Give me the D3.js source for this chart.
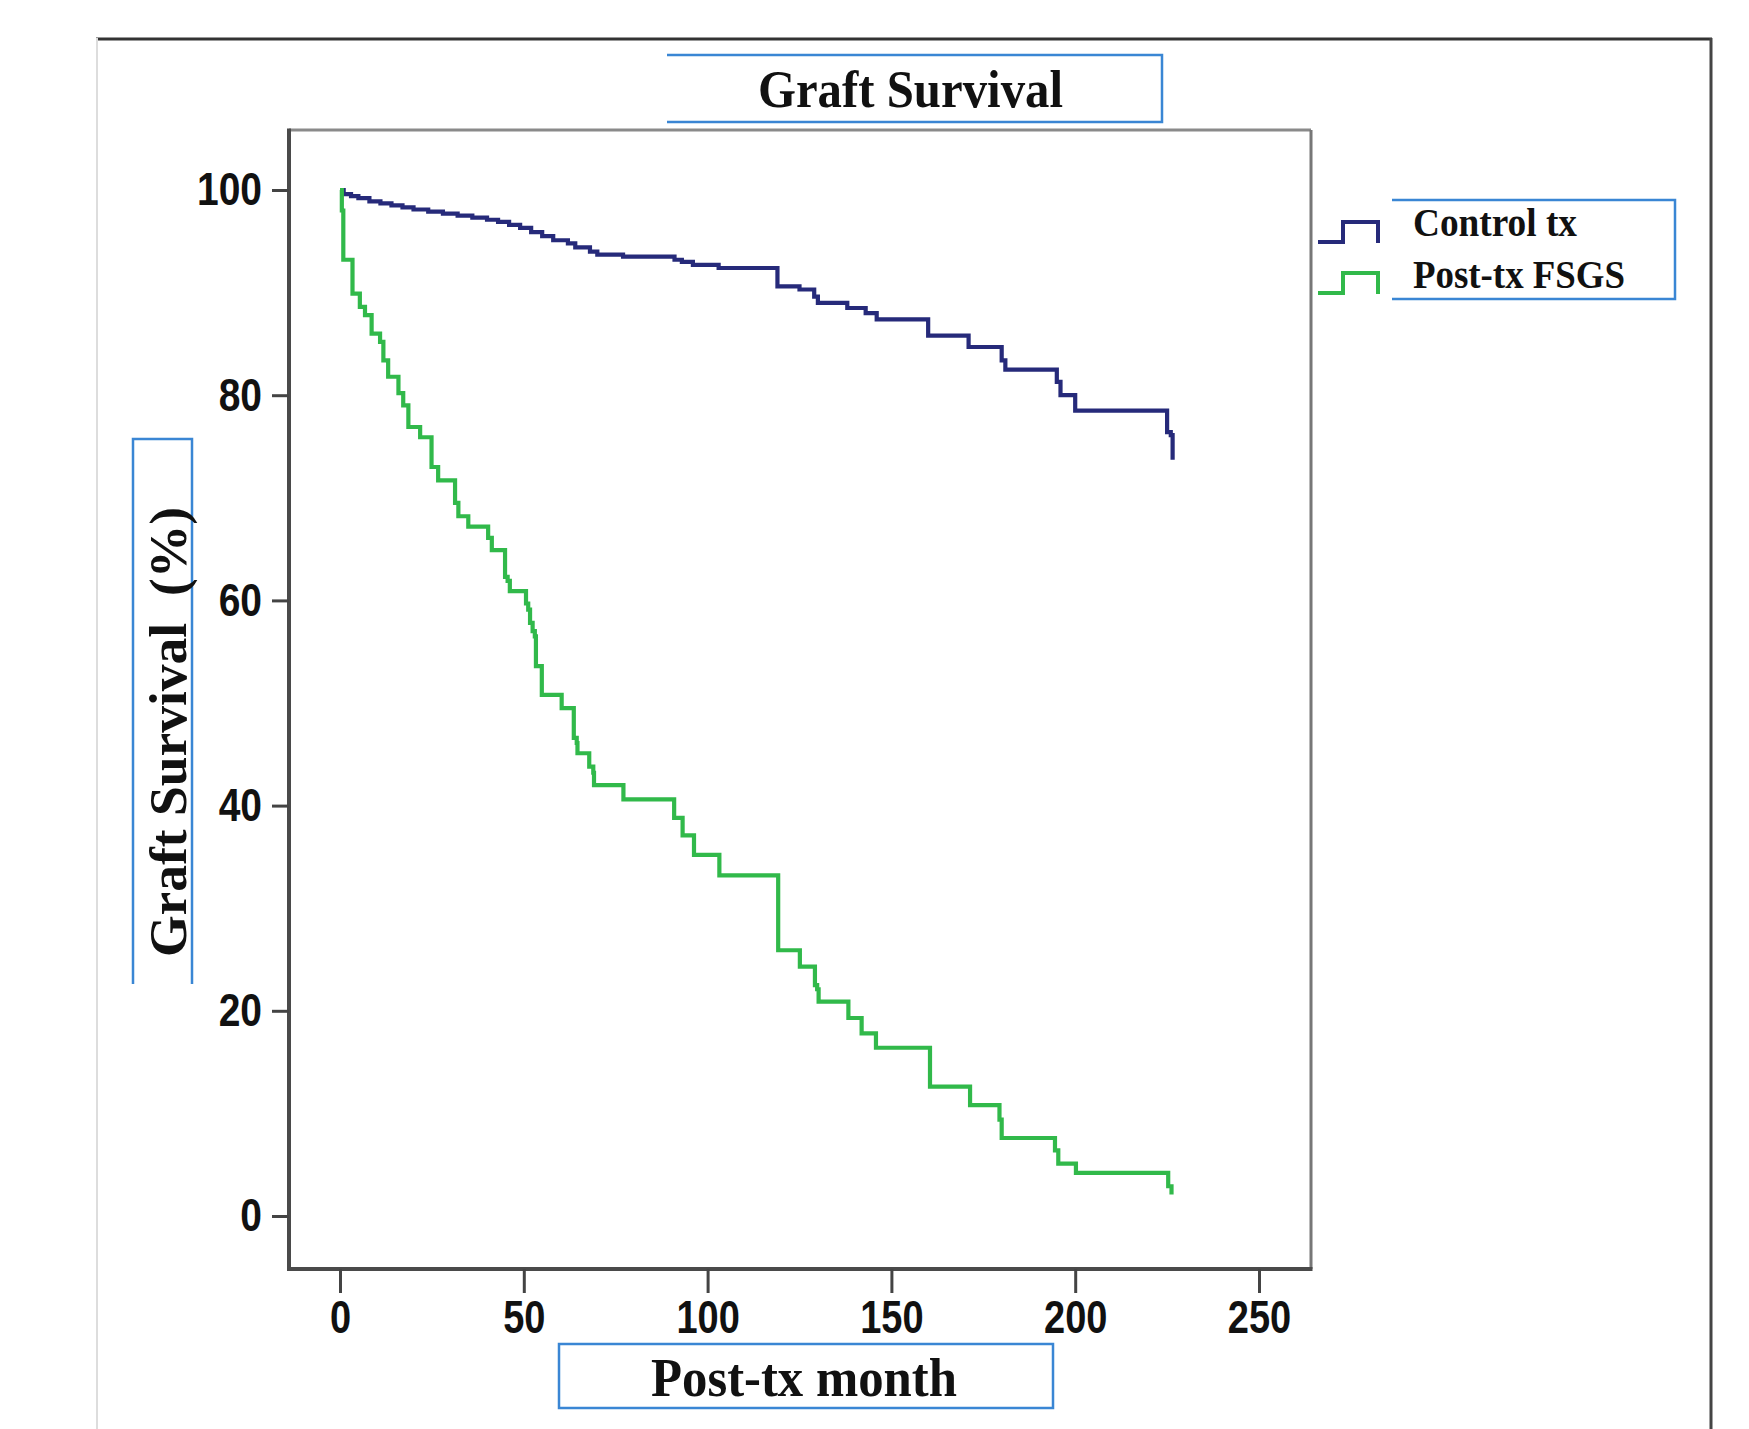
<!DOCTYPE html>
<html>
<head>
<meta charset="utf-8">
<script src="https://cdn.jsdelivr.net/npm/d3@7"></script>
<style>
  body { margin: 0; background: #fff; }
  svg { display: block; }
</style>
</head>
<body>
<svg></svg>
<script>
// Kaplan-Meier steps (month, survival %)
const seriesNames = ["Control tx", "Post-tx FSGS"];
const controlMonths = [0, 1, 3, 5, 8, 11, 14, 17, 20, 24, 28, 32, 36, 40, 43, 46, 49, 52, 55, 58,
  62, 64, 68, 70, 77, 91, 93, 96, 103, 119, 125, 129, 130, 138, 143, 146, 160, 171, 180, 181,
  195, 196, 200, 225, 226, 226.5];
const controlSurvival = [100, 99.6, 99.4, 99.2, 98.9, 98.7, 98.5, 98.3, 98.1, 97.9, 97.7, 97.5, 97.3, 97.1, 96.9, 96.6, 96.3, 95.9, 95.5, 95.1,
  94.8, 94.4, 94.0, 93.7, 93.5, 93.2, 93.0, 92.7, 92.4, 90.6, 90.3, 89.6, 89.0, 88.5, 88.0, 87.4, 85.8, 84.7, 83.4, 82.5,
  81.3, 80.0, 78.5, 76.4, 76.1, 73.7];
const fsgsMonths = [0, 0.5, 0.9, 3.4, 5.4, 6.8, 8.6, 10.9, 11.8, 13.1, 15.9, 17.2, 18.6, 21.8, 24.9, 26.7, 31.3, 32.2, 34.9, 40.3,
  41.3, 44.9, 45.6, 46.2, 50.6, 51.2, 51.7, 52.4, 53.0, 53.3, 54.9, 60.3, 63.6, 64.4, 64.6, 67.8, 68.9, 69.1, 77.1, 90.9,
  93.2, 96.3, 103.2, 119.2, 125.1, 129.2, 129.8, 130.2, 138.3, 141.9, 145.8, 160.5, 171.4, 179.4, 180.0, 194.5, 195.4, 200.2, 225.3, 226.2];
const fsgsSurvival = [100, 98.0, 93.2, 89.9, 88.6, 87.8, 86.0, 85.2, 83.4, 81.8, 80.2, 79.0, 76.9, 75.9, 73.0, 71.7, 69.5, 68.2, 67.2, 66.1,
  64.9, 62.3, 61.9, 60.9, 59.7, 59.1, 57.8, 57.0, 56.5, 53.6, 50.8, 49.5, 46.6, 46.1, 45.1, 43.8, 43.2, 42.0, 40.6, 38.8,
  37.1, 35.2, 33.2, 25.9, 24.3, 22.5, 22.1, 20.9, 19.3, 17.8, 16.4, 12.6, 10.8, 9.4, 7.6, 6.4, 5.1, 4.2, 2.9, 2.1];
const xTicks = [0, 50, 100, 150, 200, 250];
const yTicks = [0, 20, 40, 60, 80, 100];

const width = 1749, height = 1429;
const frame = { left: 289, top: 130, right: 1311, bottom: 1269 };
const colors = ["#262a7a", "#31b94a"];
const boxBlue = "#3a86d4";
const serif = "'Liberation Serif', 'Times New Roman', serif";
const sans = "'Liberation Sans', Arial, sans-serif";

const svg = d3.select("svg").attr("width", width).attr("height", height);

// outer page border
svg.append("line").attr("x1", 96).attr("y1", 39).attr("x2", 1712).attr("y2", 39)
  .attr("stroke", "#333").attr("stroke-width", 3);
svg.append("line").attr("x1", 1711).attr("y1", 38).attr("x2", 1711).attr("y2", height)
  .attr("stroke", "#444").attr("stroke-width", 3);
svg.append("line").attr("x1", 97).attr("y1", 38).attr("x2", 97).attr("y2", height)
  .attr("stroke", "#ddd").attr("stroke-width", 2);

const x = d3.scaleLinear().domain([0, 250]).range([340, 1259]);
const y = d3.scaleLinear().domain([0, 100]).range([1216, 190]);

// plot frame
svg.append("line").attr("x1", frame.left).attr("y1", frame.top).attr("x2", frame.right).attr("y2", frame.top)
  .attr("stroke", "#8a8a8a").attr("stroke-width", 3);
svg.append("line").attr("x1", frame.right).attr("y1", frame.top).attr("x2", frame.right).attr("y2", frame.bottom)
  .attr("stroke", "#777").attr("stroke-width", 3);
svg.append("line").attr("x1", frame.left).attr("y1", frame.top - 1.5).attr("x2", frame.left).attr("y2", frame.bottom + 2)
  .attr("stroke", "#4a4a4a").attr("stroke-width", 4);
svg.append("line").attr("x1", frame.left - 2).attr("y1", frame.bottom).attr("x2", frame.right + 1.5).attr("y2", frame.bottom)
  .attr("stroke", "#4a4a4a").attr("stroke-width", 4);

// y axis
const yAxis = svg.append("g")
  .attr("transform", `translate(${frame.left},0)`)
  .call(d3.axisLeft(y).tickValues(yTicks).tickSize(17).tickPadding(10).tickSizeOuter(0));
yAxis.select(".domain").remove();
yAxis.selectAll(".tick line").attr("stroke", "#444").attr("stroke-width", 3);
yAxis.selectAll(".tick text")
  .attr("transform", "scale(1,1.2)")
  .style("font-family", sans).style("font-size", "39px").style("font-weight", "bold")
  .attr("fill", "#111");

// x axis
const xAxis = svg.append("g")
  .attr("transform", `translate(0,${frame.bottom})`)
  .call(d3.axisBottom(x).tickValues(xTicks).tickSize(24).tickSizeOuter(0));
xAxis.select(".domain").remove();
xAxis.selectAll(".tick line").attr("stroke", "#444").attr("stroke-width", 3);
xAxis.selectAll(".tick text")
  .attr("y", 26.5).attr("dy", "0.71em")
  .attr("transform", "scale(1,1.2)")
  .style("font-family", sans).style("font-size", "38px").style("font-weight", "bold")
  .attr("fill", "#111");

// survival curves
const series = [
  { name: seriesNames[0], months: controlMonths, values: controlSurvival },
  { name: seriesNames[1], months: fsgsMonths, values: fsgsSurvival }
];
const line = d3.line().curve(d3.curveStepAfter).x(d => x(d[0])).y(d => y(d[1]));
series.forEach((s, i) => {
  const pts = s.months.map((m, j) => [m, s.values[j]]);
  svg.append("path")
    .datum(pts)
    .attr("d", line)
    .attr("fill", "none")
    .attr("stroke", colors[i])
    .attr("stroke-width", 4.2)
    .attr("stroke-linejoin", "miter");
});

// title box (no left side)
svg.append("path").attr("d", "M667,55 H1162 V122 H667")
  .attr("fill", "none").attr("stroke", boxBlue).attr("stroke-width", 2.5);
svg.append("text")
  .attr("x", 758).attr("y", 107)
  .attr("textLength", 305).attr("lengthAdjust", "spacingAndGlyphs")
  .style("font-family", serif).style("font-size", "52px").style("font-weight", "bold")
  .attr("fill", "#111")
  .text("Graft Survival");

// x axis title box
svg.append("rect").attr("x", 559).attr("y", 1344).attr("width", 494).attr("height", 64)
  .attr("fill", "none").attr("stroke", boxBlue).attr("stroke-width", 2.5);
svg.append("text")
  .attr("x", 651).attr("y", 1396)
  .attr("textLength", 306).attr("lengthAdjust", "spacingAndGlyphs")
  .style("font-family", serif).style("font-size", "55px").style("font-weight", "bold")
  .attr("fill", "#111")
  .text("Post-tx month");

// y axis title box (open at the bottom)
svg.append("path").attr("d", "M133,984 V439 H192 V984")
  .attr("fill", "none").attr("stroke", boxBlue).attr("stroke-width", 2.5);
svg.append("text")
  .attr("transform", "translate(186,957) rotate(-90)")
  .attr("textLength", 450).attr("lengthAdjust", "spacingAndGlyphs")
  .attr("xml:space", "preserve").style("white-space", "pre")
  .style("font-family", serif).style("font-size", "52px").style("font-weight", "bold")
  .attr("fill", "#111")
  .text("Graft Survival  (%)");

// legend
const legend = svg.append("g").attr("transform", "translate(1318,0)");
svg.append("path").attr("d", "M1392,200 H1675 V299 H1392")
  .attr("fill", "none").attr("stroke", boxBlue).attr("stroke-width", 2.5);
const legendRows = [242, 293];
const legendWidths = [164, 212];
seriesNames.forEach((name, i) => {
  const base = legendRows[i];
  legend.append("path")
    .attr("d", `M0,${base} H25 V${base - 20} H60 V${base + 1}`)
    .attr("fill", "none").attr("stroke", colors[i]).attr("stroke-width", 4);
  legend.append("text")
    .attr("x", 95).attr("y", base - 6 + i * 1)
    .attr("textLength", legendWidths[i]).attr("lengthAdjust", "spacingAndGlyphs")
    .style("font-family", serif).style("font-size", "40px").style("font-weight", "bold")
    .attr("fill", "#111")
    .text(name);
});
</script>
</body>
</html>
